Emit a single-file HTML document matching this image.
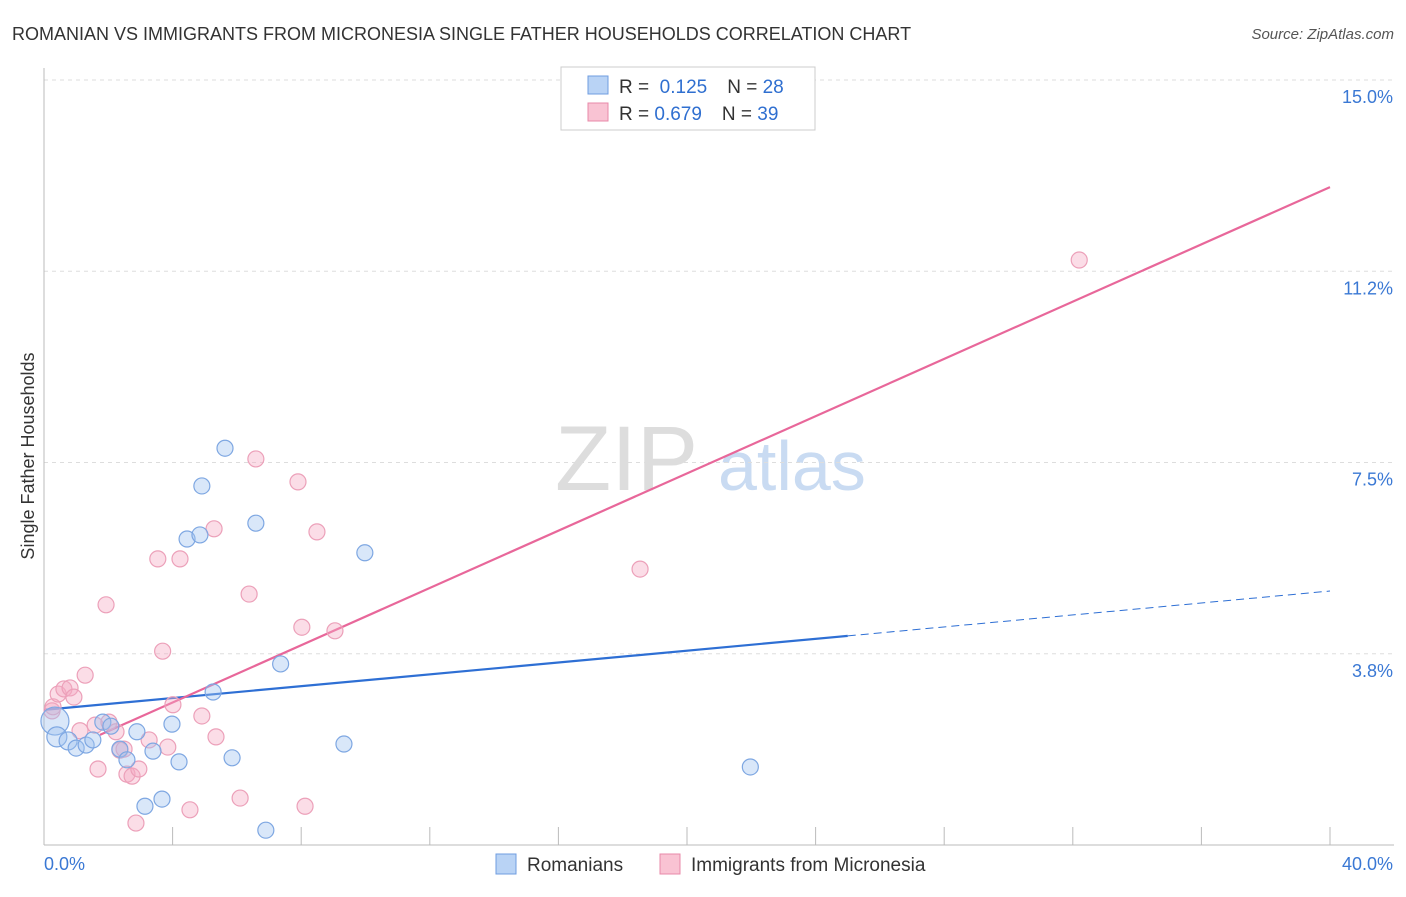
<!DOCTYPE html>
<html><head><meta charset="utf-8"><style>
body{margin:0;background:#fff;font-family:"Liberation Sans",sans-serif}
svg text{font-family:"Liberation Sans",sans-serif}
</style></head><body>
<svg id="chart" width="1406" height="892">
<text x="12" y="40" font-size="18" fill="#333">ROMANIAN VS IMMIGRANTS FROM MICRONESIA SINGLE FATHER HOUSEHOLDS CORRELATION CHART</text>
<text x="1394" y="39" font-size="15" fill="#555" font-style="italic" text-anchor="end">Source: ZipAtlas.com</text>
<g><text x="555" y="490" font-size="92" fill="#ddd" font-family="Liberation Serif">ZIP</text><text x="718" y="490" font-size="70" fill="#c9dbf2">atlas</text></g>
<text transform="translate(34,456) rotate(-90)" font-size="18" fill="#333" text-anchor="middle">Single Father Households</text>
<g id="grid"></g><g id="axes"></g><g id="lines"></g><g id="points"></g>
<g>
<rect x="561" y="67" width="254" height="63" fill="#fff" stroke="#ccc"/>
<rect x="588" y="76" width="20" height="18" fill="#b9d3f5" stroke="#6f9de0"/>
<rect x="588" y="103" width="20" height="18" fill="#f9c3d3" stroke="#e88aa8"/>
<text x="619" y="93" font-size="19" fill="#333">R = <tspan fill="#2f6fd0">&#160;0.125</tspan><tspan dx="20">N = </tspan><tspan fill="#2f6fd0">28</tspan></text>
<text x="619" y="120" font-size="19" fill="#333">R = <tspan fill="#2f6fd0">0.679</tspan><tspan dx="20">N = </tspan><tspan fill="#2f6fd0">39</tspan></text>
</g>
<g>
<rect x="496" y="854" width="20" height="20" fill="#b9d3f5" stroke="#6f9de0"/>
<text x="527" y="871" font-size="19" fill="#333">Romanians</text>
<rect x="660" y="854" width="20" height="20" fill="#f9c3d3" stroke="#e88aa8"/>
<text x="691" y="871" font-size="19" fill="#333">Immigrants from Micronesia</text>
</g>
</svg>
<script>
const yTicks=[3.75,7.5,11.25,15];
const yTickLabels=["3.8%","7.5%","11.2%","15.0%"];
const xTicks=[0,4,8,12,16,20,24,28,32,36,40];
const blueX=[0.34,0.4,0.75,1.0,1.31,1.52,1.83,2.08,2.36,2.58,2.89,3.14,3.39,3.67,3.98,4.2,4.45,4.85,4.91,5.26,5.63,5.85,6.59,6.9,7.36,9.33,9.98,21.97];
const blueY=[2.43,2.12,2.04,1.9,1.96,2.06,2.41,2.33,1.88,1.67,2.22,0.76,1.84,0.9,2.37,1.63,6.0,6.08,7.04,3.0,7.78,1.71,6.31,0.29,3.55,1.98,5.73,1.53];
const blueR=[14,10,9,8,8,8,8,8,8,8,8,8,8,8,8,8,8,8,8,8,8,8,8,8,8,8,8,8];
const pinkX=[0.25,0.28,0.44,0.62,0.81,0.93,1.28,1.12,1.68,1.59,1.93,2.02,2.24,2.36,2.58,2.74,2.86,2.95,3.27,3.54,3.69,3.85,4.01,4.23,4.54,4.91,5.29,5.35,6.1,6.38,6.59,7.9,8.02,8.12,8.49,9.05,18.54,32.2,2.49];
const pinkY=[2.63,2.71,2.96,3.06,3.08,2.9,3.33,2.24,1.49,2.35,4.71,2.41,2.22,1.86,1.39,1.35,0.43,1.49,2.06,5.61,3.8,1.92,2.75,5.61,0.69,2.53,6.2,2.12,0.92,4.92,7.57,7.12,4.27,0.76,6.14,4.2,5.41,11.47,1.88];
const blueLine=[[0,2.65],[25,4.1],[40,4.98]];
const pinkLine=[[1.74,2.16],[40,12.9]];
const L=44,R=1330,B=845,T=80;
const xs=v=>L+(R-L)*v/40, ys=v=>B-(B-T)*v/15;
const NS="http://www.w3.org/2000/svg";
function mk(p,t,a){const e=document.createElementNS(NS,t);for(const k in a)e.setAttribute(k,a[k]);document.getElementById(p).appendChild(e);return e;}
yTicks.forEach((t,i)=>{
 const g=mk('grid','line',{x1:L,x2:1394,y1:ys(t),y2:ys(t),stroke:'#ddd','stroke-dasharray':'4,4'});
 
 
 const tx=mk('axes','text',{x:1393,y:ys(t)+23,'font-size':18,fill:'#3a78d4','text-anchor':'end'});
 tx.textContent=yTickLabels[i];
 
 
});
const ax=mk('axes','line',{x1:L,x2:L,y1:68,y2:B,stroke:'#bbb'});


const bx=mk('axes','line',{x1:L,x2:1394,y1:B,y2:B,stroke:'#bbb'});


xTicks.forEach(t=>{
 const e=mk('axes','line',{x1:xs(t),x2:xs(t),y1:827,y2:B,stroke:'#bbb'});
 
 
});
const x0=mk('axes','text',{x:44,y:870,'font-size':18,fill:'#3a78d4'});x0.textContent='0.0%';


const x1=mk('axes','text',{x:1393,y:870,'font-size':18,fill:'#3a78d4','text-anchor':'end'});x1.textContent='40.0%';


pinkX.forEach((v,i)=>{
 const c=mk('points','circle',{cx:xs(v),cy:ys(pinkY[i]),r:8,fill:'rgba(246,170,195,0.4)',stroke:'#eca0b9','stroke-width':1.2});
 
 
});
blueX.forEach((v,i)=>{
 const c=mk('points','circle',{cx:xs(v),cy:ys(blueY[i]),r:blueR[i],fill:'rgba(160,195,240,0.4)',stroke:'#7ea7e2','stroke-width':1.2});
 
 
});
const b1=mk('lines','line',{x1:xs(blueLine[0][0]),y1:ys(blueLine[0][1]),x2:xs(blueLine[1][0]),y2:ys(blueLine[1][1]),stroke:'#2e6fd4','stroke-width':2.2});


const b2=mk('lines','line',{x1:xs(blueLine[1][0]),y1:ys(blueLine[1][1]),x2:xs(blueLine[2][0]),y2:ys(blueLine[2][1]),stroke:'#2e6fd4','stroke-width':1,'stroke-dasharray':'8,5'});


const p1=mk('lines','line',{x1:xs(pinkLine[0][0]),y1:ys(pinkLine[0][1]),x2:xs(pinkLine[1][0]),y2:ys(pinkLine[1][1]),stroke:'#e8679a','stroke-width':2.2});


</script>
</body></html>
